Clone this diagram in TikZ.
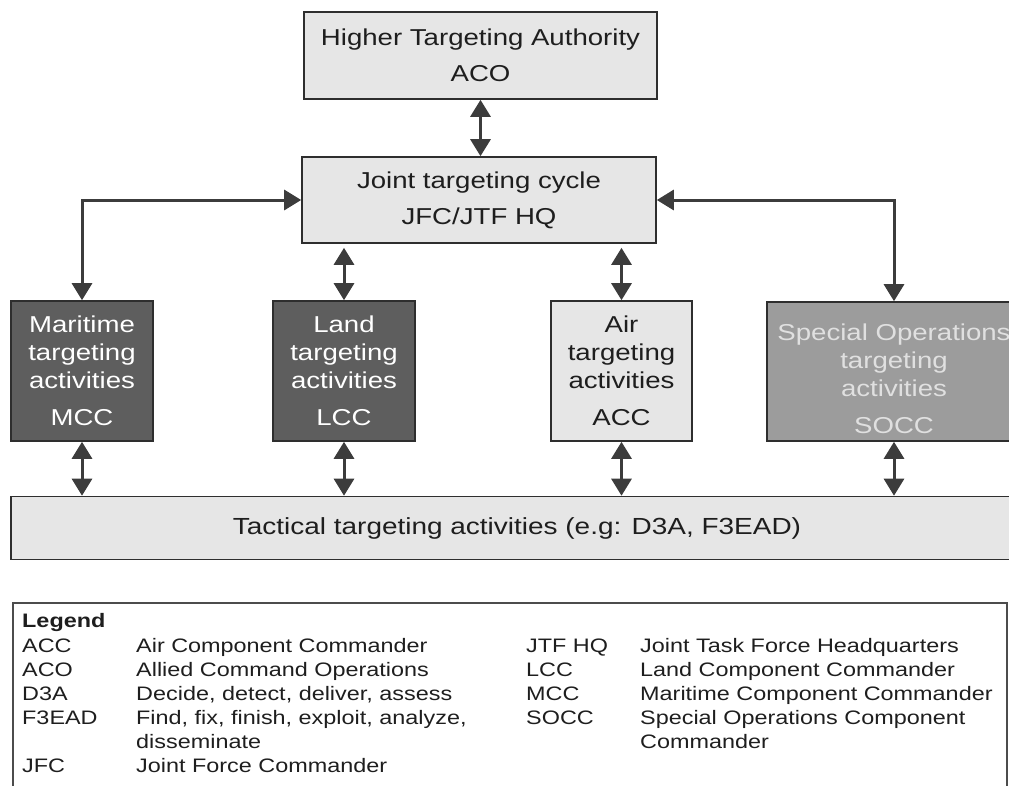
\documentclass[tikz,border=0pt]{standalone}
\usepackage{fontspec}
\setmainfont{Liberation Sans}[FakeStretch=1.2]
\usetikzlibrary{arrows.meta}
\definecolor{lightbox}{HTML}{E6E6E6}
\definecolor{darkbox}{HTML}{5E5E5E}
\definecolor{midbox}{HTML}{9C9C9C}
\definecolor{arrowc}{HTML}{3C3C3C}
\definecolor{edgec}{HTML}{2E2E2E}
\definecolor{txtc}{HTML}{1E1E1E}
\tikzset{
  boxbase/.style={draw=edgec, line width=1.6pt, rectangle, inner sep=0pt, align=center,
    font=\fontsize{23}{36}\selectfont, text=txtc},
  lightnode/.style={boxbase, fill=lightbox},
  compnode/.style={boxbase, minimum width=142pt, minimum height=140pt,
    font=\fontsize{23}{28}\selectfont},
  darknode/.style={compnode, fill=darkbox, text=white},
  twoway/.style={draw=arrowc, line width=3pt, {Triangle[length=17pt,width=20pt]}-{Triangle[length=17pt,width=20pt]}},
  legtxt/.style={anchor=base west, inner sep=0pt, font=\fontsize{19.5}{24}\selectfont, text=txtc},
}
\begin{document}
\begin{tikzpicture}[x=1pt,y=-1pt]
\useasboundingbox (0,0) rectangle (1009,785);
\begin{scope}
\clip (0,0) rectangle (1009,785);
% main boxes
\node[lightnode, minimum width=353pt, minimum height=87pt] (top) at (480.5,55.5)
  {Higher Targeting Authority\\ACO};
\node[lightnode, minimum width=354pt, minimum height=86pt] (joint) at (479,200)
  {Joint targeting cycle\\JFC/JTF HQ};
\node[darknode] (mar) at (82,371) {Maritime\\targeting\\activities\\[9pt]MCC};
\node[darknode] (land) at (344,371) {Land\\targeting\\activities\\[9pt]LCC};
\node[compnode, fill=lightbox, minimum width=141pt] (air) at (621.5,371)
  {Air\\targeting\\activities\\[9pt]ACC};
\node[compnode, fill=midbox, minimum width=254pt, minimum height=139pt] (so) at (894,371.5) {};
\node[align=center, inner sep=0pt, font=\fontsize{23}{28}\selectfont, text=white!88!black] (sotxt)
  at ([yshift=-7pt]so.center) {Special Operations\\targeting\\activities\\[9pt]SOCC};
\node[lightnode, minimum width=1012pt, minimum height=63pt, font=\fontsize{23.3}{28}\selectfont] (tac) at (517,528)
  {Tactical targeting activities (e.g: D3A, F3EAD)};
% connectors
\draw[twoway] (top.south) -- (top.south |- joint.north);
\draw[twoway] (mar.north) |- (joint.west);
\draw[twoway] (so.north) |- (joint.east);
\draw[twoway] (land.north |- joint.south) ++(0,4) -- (land.north);
\draw[twoway] (air.north |- joint.south) ++(0,4) -- (air.north);
\draw[twoway] (mar.south) -- (mar.south |- tac.north);
\draw[twoway] (land.south) -- (land.south |- tac.north);
\draw[twoway] (air.south) -- (air.south |- tac.north);
\draw[twoway] (so.south) -- (so.south |- tac.north);
% legend
\coordinate (lgA) at (13,603);
\coordinate (lgB) at (1007,800);
\draw[draw=black!70, line width=1.1pt] (lgA) rectangle (lgB);
\node[legtxt, font=\fontsize{19.5}{24}\selectfont\bfseries] (lg0) at (22,627) {Legend};
\node[legtxt] (k1) at (22,652) {ACC};
\node[legtxt] (v1) at (136,652) {Air Component Commander};
\node[legtxt] (k2) at (22,676) {ACO};
\node[legtxt] (v2) at (136,676) {Allied Command Operations};
\node[legtxt] (k3) at (22,700) {D3A};
\node[legtxt] (v3) at (136,700) {Decide, detect, deliver, assess};
\node[legtxt] (k4) at (22,724) {F3EAD};
\node[legtxt] (v4) at (136,724) {Find, fix, finish, exploit, analyze,};
\node[legtxt] (v4b) at (136,748) {disseminate};
\node[legtxt] (k5) at (22,772) {JFC};
\node[legtxt] (v5) at (136,772) {Joint Force Commander};
\node[legtxt] (k6) at (526,652) {JTF HQ};
\node[legtxt] (v6) at (640,652) {Joint Task Force Headquarters};
\node[legtxt] (k7) at (526,676) {LCC};
\node[legtxt] (v7) at (640,676) {Land Component Commander};
\node[legtxt] (k8) at (526,700) {MCC};
\node[legtxt] (v8) at (640,700) {Maritime Component Commander};
\node[legtxt] (k9) at (526,724) {SOCC};
\node[legtxt] (v9) at (640,724) {Special Operations Component};
\node[legtxt] (v9b) at (640,748) {Commander};
\end{scope}
\end{tikzpicture}
\end{document}
